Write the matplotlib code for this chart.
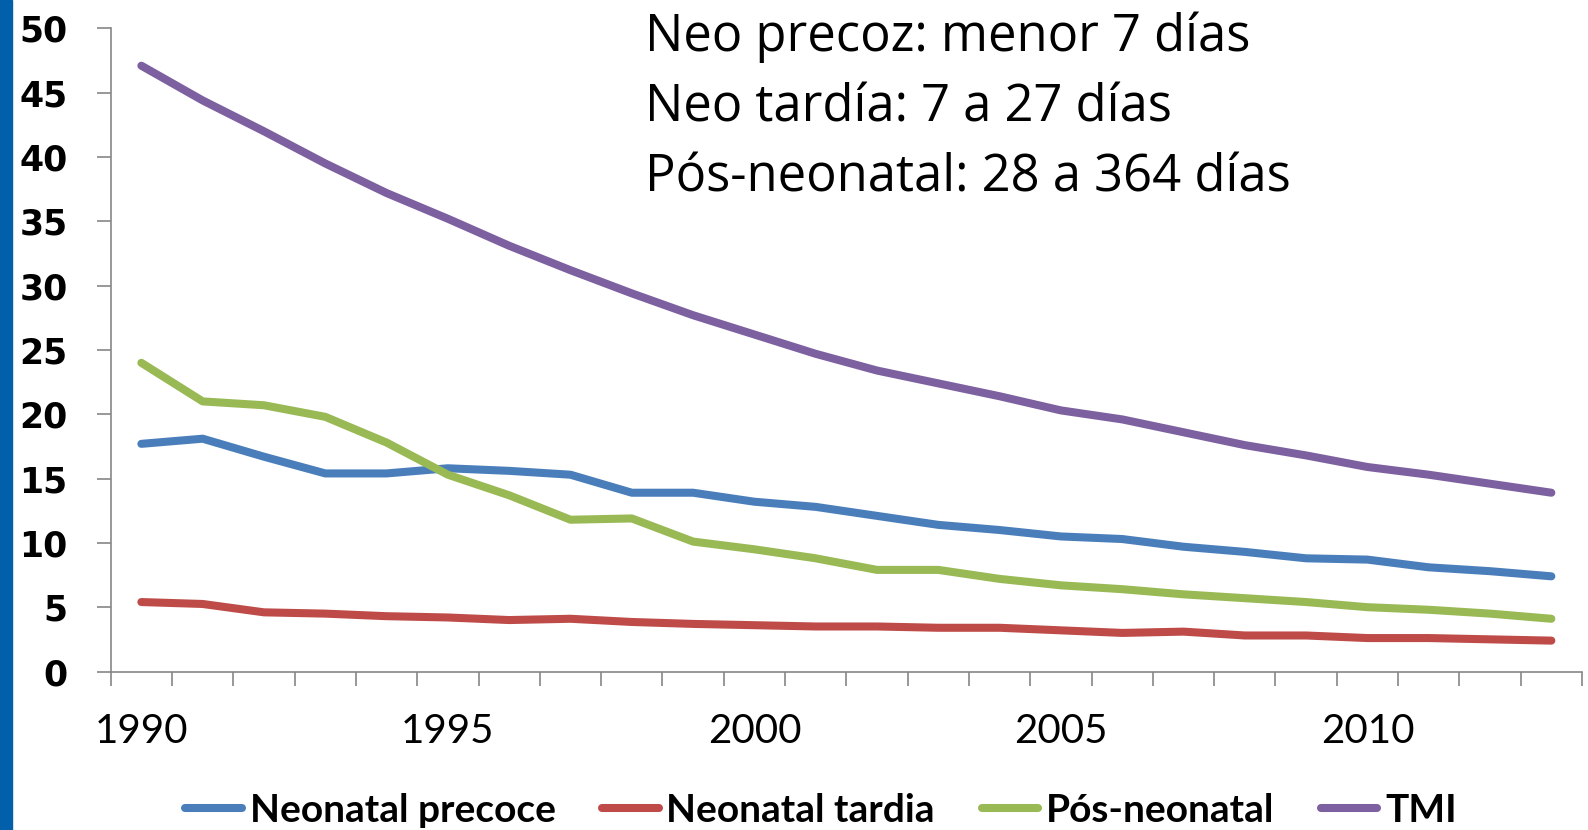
import matplotlib.pyplot as plt
from matplotlib.patches import Rectangle

# Mortalidade infantil por componente, 1990-2013
years = list(range(1990, 2014))
neonatal_precoce = [17.7, 18.1, 16.7, 15.4, 15.4, 15.8, 15.6, 15.3, 13.9, 13.9,
                    13.2, 12.8, 12.1, 11.4, 11.0, 10.5, 10.3, 9.7, 9.3, 8.8,
                    8.7, 8.1, 7.8, 7.4]
neonatal_tardia = [5.4, 5.25, 4.6, 4.5, 4.3, 4.2, 4.0, 4.1, 3.85, 3.7,
                   3.6, 3.5, 3.5, 3.4, 3.4, 3.2, 3.0, 3.1, 2.8, 2.8,
                   2.6, 2.6, 2.5, 2.4]
pos_neonatal = [24.0, 21.0, 20.7, 19.8, 17.8, 15.3, 13.7, 11.8, 11.9, 10.1,
                9.5, 8.8, 7.9, 7.9, 7.2, 6.7, 6.4, 6.0, 5.7, 5.4,
                5.0, 4.8, 4.5, 4.1]
tmi = [47.1, 44.4, 42.0, 39.5, 37.2, 35.2, 33.1, 31.2, 29.4, 27.7,
       26.2, 24.7, 23.4, 22.4, 21.4, 20.3, 19.6, 18.6, 17.6, 16.8,
       15.9, 15.3, 14.6, 13.9]

series_names = ['Neonatal precoce', 'Neonatal tardia', 'Pós-neonatal', 'TMI']
series_colors = ['#4A7EBB', '#BE4B48', '#98B954', '#7D60A0']
year_labels = ['1990', '1995', '2000', '2005', '2010']

notes = ['Neo precoz: menor 7 días',
         'Neo tardía: 7 a 27 días',
         'Pós-neonatal: 28 a 364 días']

W, H = 1588, 830
fig = plt.figure(figsize=(W / 100, H / 100), dpi=100)
fig.patch.set_facecolor('white')

# barra azul do slide
fig.patches.append(Rectangle((0, 0), 12 / W, 1, transform=fig.transFigure,
                             color='#0160A9', zorder=0))

ax = fig.add_axes([110.7 / W, 1 - 671.5 / H, (1582 - 110.7) / W, (671.5 - 28.4) / H])

idx = list(range(len(years)))
for vals, name, col in zip([neonatal_precoce, neonatal_tardia, pos_neonatal, tmi],
                           series_names, series_colors):
    ax.plot(idx, vals, color=col, lw=5.8, solid_capstyle='round',
            solid_joinstyle='round', label=name)

ax.set_xlim(-0.5, len(years) - 0.5)
ax.set_ylim(0, 50)

gray = '#868686'
for s in ['top', 'right']:
    ax.spines[s].set_visible(False)
for s in ['left', 'bottom']:
    ax.spines[s].set_color(gray)
    ax.spines[s].set_linewidth(1.2)

# marcas entre as categorias, rótulos a cada 5 anos
ax.set_xticks([i - 0.5 for i in range(len(years) + 1)])
ax.set_xticklabels([])
ax.set_xticks([years.index(int(y)) for y in year_labels], minor=True)
ax.set_xticklabels(year_labels, minor=True)
ax.tick_params(axis='x', which='major', direction='out', length=10, width=1.2, color=gray)
ax.tick_params(axis='x', which='minor', length=0, pad=30, labelsize=29)
for lab in ax.get_xticklabels(minor=True):
    lab.set_fontfamily('Lato')

ax.set_yticks(range(0, 51, 5))
ax.tick_params(axis='y', direction='out', length=10, width=1.2, color=gray,
               pad=21, labelsize=25)
for lab in ax.get_yticklabels():
    lab.set_fontweight('bold')
    lab.set_fontfamily('DejaVu Sans')

leg = fig.legend(loc='center', bbox_to_anchor=(821 / W, 1 - 810 / H), ncol=4,
                 frameon=False, handlelength=1.45, handletextpad=0.2,
                 columnspacing=1.2, borderaxespad=0, borderpad=0,
                 prop={'family': 'Lato', 'weight': 'bold', 'size': 28})
for ln in leg.get_lines():
    ln.set_linewidth(5.8)
    ln.set_solid_capstyle('round')

for i, t in enumerate(notes):
    fig.text(645 / W, 1 - (51 + 70 * i) / H, t, fontsize=36.5, family='Open Sans',
             va='baseline', ha='left')

fig.savefig('out.png', dpi=100)
